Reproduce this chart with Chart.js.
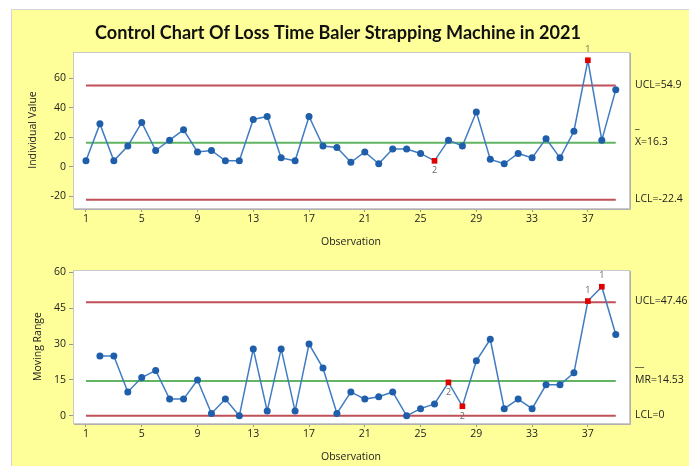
<!DOCTYPE html>
<html>
<head>
<meta charset="utf-8">
<script src="https://cdn.jsdelivr.net/npm/chart.js@4.4.1/dist/chart.umd.min.js"></script>
<style>
  body { margin: 0; width: 689px; height: 466px; background: #fff; position: relative; overflow: hidden; }
  #bg { position: absolute; left: 11px; top: 9px; right: 0; bottom: 0; background: #FFFF99; border-top: 1px solid #d4d4d4; border-left: 1px solid #d4d4d4; }
  canvas { position: absolute; left: 0; }
  #iChart { top: 0; }
  #mrChart { top: 255px; }
</style>
</head>
<body>
<div id="bg"></div>
<canvas id="iChart" width="689" height="255"></canvas>
<canvas id="mrChart" width="689" height="211"></canvas>
<script>
const chartTitle = "Control Chart Of Loss Time Baler Strapping Machine in 2021";

const observations = [1,2,3,4,5,6,7,8,9,10,11,12,13,14,15,16,17,18,19,20,
                      21,22,23,24,25,26,27,28,29,30,31,32,33,34,35,36,37,38,39];

// individual values
const individualValues = [4,29,4,14,30,11,18,25,10,11,4,4,32,34,6,4,34,14,13,3,
                          10,2,12,12,9,4,18,14,37,5,2,9,6,19,6,24,72,18,52];

// moving ranges (obs 2..39)
const movingRanges = [25,25,10,16,19,7,7,15,1,7,0,28,2,28,2,30,20,1,10,
                      7,8,10,0,3,5,14,4,23,32,3,7,3,13,13,18,48,54,34];

const xTicks = [1,5,9,13,17,21,25,29,33,37];
const iTicks = [-20,0,20,40,60];
const mrTicks = [0,15,30,45,60];

const iLimits = [54.9, 16.3, -22.4];
const iLimitLabels = ["UCL=54.9", "X=16.3", "LCL=-22.4"];
const mrLimits = [47.46, 14.53, 0];
const mrLimitLabels = ["UCL=47.46", "MR=14.53", "LCL=0"];

// flagged points (test number shown next to them)
const iFlagObs = [26, 37];
const iFlagText = ["2", "1"];
const mrFlagObs = [27, 28, 37, 38];
const mrFlagText = ["2", "2", "1", "1"];

const FONT = "'Open Sans', 'Noto Sans', sans-serif";
const RED = "#BF5058";
const GREEN = "#62B562";
const BLUE = "#1F5EAB";
const LINEBLUE = "#3F7CC2";

function limitLine(v, color) {
  return {
    data: [{x: 1, y: v}, {x: 39, y: v}],
    borderColor: color, borderWidth: 2, pointRadius: 0, order: 2
  };
}

function seriesSet(xs, ys, flags) {
  return {
    data: xs.map((x, i) => ({x: x, y: ys[i]})),
    borderColor: LINEBLUE, borderWidth: 1.5,
    pointRadius: xs.map(x => flags.includes(x) ? 4 : 3.5),
    pointStyle: xs.map(x => flags.includes(x) ? "rect" : "circle"),
    pointBackgroundColor: xs.map(x => flags.includes(x) ? "#E00000" : BLUE),
    pointBorderColor: xs.map(x => flags.includes(x) ? "#E00000" : BLUE),
    pointBorderWidth: 0,
    order: 1
  };
}

const boxPlugin = {
  id: "box",
  beforeDatasetsDraw(chart) {
    const {ctx, chartArea: a} = chart;
    ctx.save();
    ctx.fillStyle = "#fff";
    ctx.fillRect(a.left, a.top, a.right - a.left, a.bottom - a.top);
    ctx.strokeStyle = "#c9c9c9";
    ctx.lineWidth = 1;
    ctx.strokeRect(a.left + 0.5, a.top + 0.5, a.right - a.left, a.bottom - a.top);
    ctx.strokeStyle = "#b0b0b0";
    ctx.beginPath();
    ctx.moveTo(a.right + 1.5, a.top + 1); ctx.lineTo(a.right + 1.5, a.bottom + 1.5); ctx.lineTo(a.left + 1, a.bottom + 1.5);
    ctx.stroke();
    ctx.restore();
  }
};

function makeLabelsPlugin(limits, labels, flagObs, flagText, barText, drawTitle) {
  return {
    id: "labels",
    afterDraw(chart) {
      const {ctx, chartArea: a, scales} = chart;
      ctx.save();
      ctx.fillStyle = "#222";
      ctx.font = "10.5px " + FONT;
      ctx.textAlign = "left";
      ctx.textBaseline = "middle";
      limits.forEach((v, i) => {
        const y = scales.y.getPixelForValue(v) - 1;
        ctx.fillText(labels[i], a.right + 6, y);
        if (i === 1) ctx.fillText(barText, a.right + 6, y - 17);
      });
      ctx.fillStyle = "#666";
      ctx.font = "9px " + FONT;
      ctx.textAlign = "center";
      const pts = chart.data.datasets[0].data;
      flagObs.forEach((o, i) => {
        const p = pts.find(d => d.x === o);
        const px = scales.x.getPixelForValue(o);
        const py = scales.y.getPixelForValue(p.y);
        ctx.fillText(flagText[i], px, flagText[i] === "1" ? py - 11 : py + 10);
      });
      if (drawTitle) {
        ctx.fillStyle = "#111";
        ctx.font = "bold 19px Lato, " + FONT;
        ctx.textAlign = "center";
        ctx.fillText(chartTitle, 338, 33, 486);
      }
      ctx.restore();
    }
  };
}

function axes(yMin, yMax, yTicks, yTitle, yTitlePad, xHeight, xTitlePad) {
  const tickFont = {family: FONT, size: 10.5};
  return {
    x: {
      type: "linear", min: 0.07, max: 39.95,
      afterBuildTicks: s => { s.ticks = xTicks.map(v => ({value: v})); },
      afterFit: s => { s.height = xHeight; },
      grid: {drawOnChartArea: false, tickLength: 4, color: "#999"},
      border: {display: false},
      ticks: {font: tickFont, color: "#222", padding: 1, maxRotation: 0},
      title: {display: true, text: "Observation", font: {family: FONT, size: 10.5}, color: "#222", padding: {top: 0, bottom: xTitlePad}}
    },
    y: {
      type: "linear", min: yMin, max: yMax,
      afterBuildTicks: s => { s.ticks = yTicks.map(v => ({value: v})); },
      afterFit: s => { s.width = 62; },
      grid: {drawOnChartArea: false, tickLength: 4, color: "#999"},
      border: {display: false},
      ticks: {font: tickFont, color: "#222", padding: 3},
      title: {display: true, text: yTitle, font: {family: FONT, size: 10.5}, color: "#222", padding: {top: yTitlePad, bottom: 0}}
    }
  };
}

const common = {
  responsive: false,
  animation: false,
  devicePixelRatio: 1,
  plugins: {legend: {display: false}, tooltip: {enabled: false}}
};

new Chart(document.getElementById("iChart"), {
  type: "line",
  data: {
    datasets: [
      seriesSet(observations, individualValues, iFlagObs),
      limitLine(iLimits[0], RED),
      limitLine(iLimits[1], GREEN),
      limitLine(iLimits[2], RED)
    ]
  },
  options: Object.assign({}, common, {
    layout: {padding: {left: 11, right: 60, top: 52, bottom: 0}},
    scales: axes(-27.9, 77.6, iTicks, "Individual Value", 16, 47, 7)
  }),
  plugins: [boxPlugin, makeLabelsPlugin(iLimits, iLimitLabels, iFlagObs, iFlagText, "_", true)]
});

new Chart(document.getElementById("mrChart"), {
  type: "line",
  data: {
    datasets: [
      seriesSet(observations.slice(1), movingRanges, mrFlagObs),
      limitLine(mrLimits[0], RED),
      limitLine(mrLimits[1], GREEN),
      limitLine(mrLimits[2], RED)
    ]
  },
  options: Object.assign({}, common, {
    layout: {padding: {left: 11, right: 60, top: 15, bottom: 0}},
    scales: axes(-3, 61, mrTicks, "Moving Range", 21, 43, 3)
  }),
  plugins: [boxPlugin, makeLabelsPlugin(mrLimits, mrLimitLabels, mrFlagObs, mrFlagText, "__", false)]
});
</script>
</body>
</html>
